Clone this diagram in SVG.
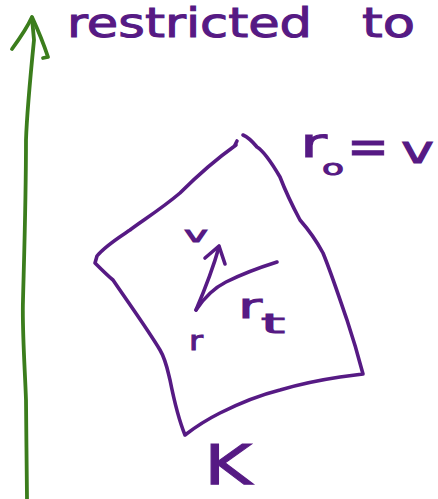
<svg xmlns="http://www.w3.org/2000/svg" width="438" height="499" viewBox="0 0 438 499">
<style>
.ink{fill:none;stroke:#561a84;stroke-width:3.6;stroke-linecap:round;stroke-linejoin:round}
.g{fill:none;stroke:#3b7d1c;stroke-width:3.8;stroke-linecap:round;stroke-linejoin:round}
.t{fill:#561a84;stroke:#561a84;stroke-width:1;font-family:"DejaVu Sans","Liberation Sans",sans-serif}
</style>
<rect width="438" height="499" fill="#fff"/>
<g id="axis">
<path class="g" d="M27,499 C27,470 26,430 26,400 C25,370 22,330 23,300 C24,260 26,200 26,140 C27,110 30,80 34,40 L32,18"/>
<path class="g" d="M12,49 C20,38 27,28 32,17 C38,30 44,45 48,57 L43,58"/>
</g>
<g id="label-restricted">
<text class="t" x="67" y="37" font-size="40" textLength="245" lengthAdjust="spacingAndGlyphs">restricted</text>
<text class="t" x="362" y="37" font-size="40" textLength="53" lengthAdjust="spacingAndGlyphs">to</text>
</g>
<g id="region-K">
<path class="ink" d="M236,145 C215,160 195,178 180,193 C160,210 140,222 130,230 C118,238 105,246 97,256 L95,263 C100,268 108,276 113,280 C130,305 148,330 160,350 C166,360 168,372 170,380 C174,400 178,418 185,435 C198,425 210,418 220,413 C240,403 260,395 280,390 C300,384 320,380 340,377 L363,374 C358,355 352,335 347,320 C340,300 332,275 323,253 C315,238 307,228 300,220 C292,205 285,190 280,177 C270,160 262,150 257,147 C252,141 248,137 243,135"/>
<path class="ink" d="M235,145 L237,141"/>
</g>
<g id="vectors">
<path class="ink" d="M196,310 C202,296 212,272 219,247"/>
<path class="ink" d="M205,258 L219,246 L225,264"/>
<path class="ink" d="M196,310 C204,298 214,288 226,282 C242,274 258,268 277,262"/>
</g>
<g id="labels">
<text class="t" x="184" y="242" font-size="22" textLength="24" lengthAdjust="spacingAndGlyphs">v</text>
<text class="t" x="238" y="318" font-size="34" textLength="24" lengthAdjust="spacingAndGlyphs">r</text>
<text class="t" x="261" y="333" font-size="26" textLength="24" lengthAdjust="spacingAndGlyphs">t</text>
<text class="t" x="189" y="350" font-size="26" textLength="14" lengthAdjust="spacingAndGlyphs">r</text>
<text class="t" x="204" y="484" font-size="56" textLength="48" lengthAdjust="spacingAndGlyphs">K</text>
<text class="t" x="300" y="157" font-size="40" textLength="27" lengthAdjust="spacingAndGlyphs">r</text>
<text class="t" x="322" y="175" font-size="22" textLength="22" lengthAdjust="spacingAndGlyphs">o</text>
<text class="t" x="347" y="164" font-size="50" textLength="42" lengthAdjust="spacingAndGlyphs">=</text>
<text class="t" x="401" y="163" font-size="38" textLength="33" lengthAdjust="spacingAndGlyphs">v</text>
</g>
</svg>
